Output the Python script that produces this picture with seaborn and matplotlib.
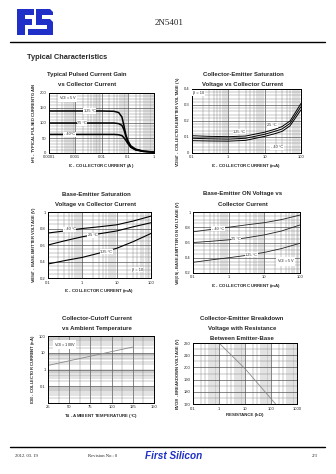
import matplotlib
matplotlib.use("Agg")
import matplotlib.pyplot as plt
import matplotlib.ticker as mt
from matplotlib.patches import Polygon
import seaborn as sns

sns.set_style("white")
plt.rcParams['font.family'] = ['Liberation Sans', 'DejaVu Sans']
plt.rcParams['mathtext.default'] = 'regular'

W, H, DPI = 336, 474, 100

# ---- Typical pulsed current gain vs collector current (A)
gain_ic = [0.0001, 0.001, 0.01, 0.03, 0.045, 0.06, 0.07, 0.085, 0.1, 0.13, 0.2, 0.4, 1.0]
gain_125 = [140, 140, 140, 139, 135, 120, 95, 60, 42, 24, 13, 6, 3]
gain_25 = [100, 100, 100, 100, 98, 92, 80, 56, 38, 21, 11, 6, 3]
gain_m40 = [62, 62, 62, 62, 61, 58, 52, 42, 32, 19, 10, 5, 3]

# ---- Collector-emitter saturation voltage vs collector current (mA)
vce_ic = [0.1, 0.3, 1, 3, 10, 20, 30, 50, 100]
vce_125 = [0.108, 0.104, 0.102, 0.106, 0.13, 0.15, 0.165, 0.2, 0.31]
vce_25 = [0.092, 0.089, 0.087, 0.092, 0.117, 0.137, 0.15, 0.185, 0.29]
vce_m40 = [0.077, 0.075, 0.074, 0.079, 0.104, 0.122, 0.135, 0.17, 0.27]

# ---- Base-emitter saturation voltage vs collector current (mA)
vbes_ic = [0.1, 0.3, 1, 3, 10, 30, 100]
vbes_m40 = [0.745, 0.77, 0.8, 0.82, 0.845, 0.89, 0.95]
vbes_25 = [0.6, 0.65, 0.7, 0.735, 0.77, 0.82, 0.87]
vbes_125 = [0.37, 0.41, 0.45, 0.5, 0.56, 0.64, 0.74]

# ---- Base-emitter ON voltage vs collector current (mA)
vbeon_ic = [0.1, 0.3, 1, 3, 10, 30, 100]
vbeon_m40 = [0.74, 0.77, 0.8, 0.83, 0.86, 0.9, 0.96]
vbeon_25 = [0.6, 0.615, 0.635, 0.66, 0.7, 0.75, 0.83]
vbeon_125 = [0.34, 0.37, 0.4, 0.43, 0.47, 0.52, 0.59]

# ---- Collector-cutoff current vs ambient temperature
icbo_temp = [25, 75, 125]
icbo_na = [1.75, 6.2, 22]

# ---- Collector-emitter breakdown voltage vs emitter-base resistance (kOhm)
bv_res = [1, 10, 150]
bv_volt = [220, 199, 170]

BLUE = "#1f2fc8"
HEAD_SIZE = 4.3

fig = plt.figure(figsize=(W / DPI, H / DPI), dpi=DPI)

# page overlay in pixel units
page = fig.add_axes([0, 0, 1, 1])
page.set_xlim(0, W)
page.set_ylim(H, 0)
page.axis('off')

# company logo: blocky "F" and "S"
page.add_patch(Polygon([(17, 9), (34, 9), (34, 15), (25, 15), (25, 19), (32, 19),
                        (32, 25), (25, 25), (25, 35), (17, 35)], closed=True, fc=BLUE, ec='none'))
page.add_patch(Polygon([(36, 9), (50, 9), (53, 12), (53, 15), (42, 15), (42, 19),
                        (50, 19), (53, 22), (53, 35), (28, 35), (28, 29), (47, 29),
                        (47, 25), (36, 25)], closed=True, fc=BLUE, ec='none'))
page.text(169, 23, "2N5401", fontsize=6.5, family=['Liberation Serif', 'DejaVu Serif'],
          ha='center', va='center')
page.plot([10, 325], [42, 42], color='black', lw=1.0)
page.text(27, 57, "Typical Characteristics", fontsize=5.3, fontweight='bold',
          ha='left', va='center')

# footer
page.plot([10, 325], [447, 447], color='black', lw=1.0)
serif = ['Liberation Serif', 'DejaVu Serif']
page.text(15, 456, "2012. 03. 19", fontsize=3.3, family=serif, ha='left', va='center')
page.text(88, 456, "Revision No.: 0", fontsize=3.3, family=serif, ha='left', va='center')
page.text(145, 456, "First Silicon", fontsize=7.2, fontweight='bold', style='italic',
          color=BLUE, ha='left', va='center')
page.text(318, 456, "2/3", fontsize=3.3, family=serif, ha='right', va='center')


def box(x0, y0, x1, y1):
    return [x0 / W, 1 - y1 / H, (x1 - x0) / W, (y1 - y0) / H]


def title(lines, cx, y0, step=10.5):
    for i, t in enumerate(lines):
        page.text(cx, y0 + i * step, t, fontsize=HEAD_SIZE, fontweight='bold',
                  ha='center', va='center')


def style(ax, xlabel, ylabel):
    ax.grid(which='major', color='#444444', lw=0.45)
    ax.grid(which='minor', color='#7a7a7a', lw=0.3)
    for s in ax.spines.values():
        s.set_color('black')
        s.set_linewidth(0.7)
    ax.tick_params(which='both', labelsize=3, length=0, pad=1.8)
    ax.set_xlabel(xlabel, fontsize=3.2, fontweight='bold', labelpad=1.5)
    ax.set_ylabel(ylabel, fontsize=3.0, fontweight='bold', labelpad=1.5)


def tag(ax, x, y, s, **kw):
    ax.text(x, y, s, fontsize=2.8, ha='center', va='center', zorder=5,
            bbox=dict(fc='white', ec='none', pad=0.4), **kw)


def plain(v, pos):
    return f"{v:g}"


def logx(ax, lo, hi):
    ax.set_xscale('log')
    ax.set_xlim(lo, hi)
    ax.xaxis.set_major_locator(mt.LogLocator(base=10))
    ax.xaxis.set_minor_locator(mt.LogLocator(base=10, subs=range(2, 10)))
    ax.xaxis.set_major_formatter(mt.FuncFormatter(plain))
    ax.xaxis.set_minor_formatter(mt.NullFormatter())


# 1) current gain
ax1 = fig.add_axes(box(49, 93, 154, 153))
for y in (gain_125, gain_25, gain_m40):
    sns.lineplot(x=gain_ic, y=y, ax=ax1, color='black', lw=1.1)
logx(ax1, 0.0001, 1)
ax1.set_ylim(0, 200)
ax1.yaxis.set_major_locator(mt.MultipleLocator(50))
ax1.yaxis.set_minor_locator(mt.MultipleLocator(10))
style(ax1, r"$I_C$ - COLLECTOR CURRENT (A)", r"$h_{FE}$ - TYPICAL PULSED CURRENT GAIN")
tag(ax1, 0.0035, 140, "125 °C")
tag(ax1, 0.0018, 100, "25 °C")
tag(ax1, 0.0006, 62, "- 40°C")
tag(ax1, 0.0005, 183, r"$V_{CE}$ = 5V")
title(["Typical Pulsed Current Gain", "vs Collector Current"], 87, 74)

# 2) saturation voltage
ax2 = fig.add_axes(box(192, 89, 301, 153))
for y in (vce_125, vce_25, vce_m40):
    sns.lineplot(x=vce_ic, y=y, ax=ax2, color='black', lw=0.7)
logx(ax2, 0.1, 100)
ax2.set_ylim(0, 0.4)
ax2.yaxis.set_major_locator(mt.MultipleLocator(0.1))
ax2.yaxis.set_minor_locator(mt.MultipleLocator(0.02))
ax2.yaxis.set_major_formatter(mt.FuncFormatter(plain))
style(ax2, r"$I_C$ - COLLECTOR CURRENT (mA)", r"$V_{CESAT}$ - COLLECTOR-EMITTER VOLTAGE (V)")
tag(ax2, 0.15, 0.375, "β = 10")
tag(ax2, 2.0, 0.133, "125 °C")
tag(ax2, 16, 0.175, "25 °C")
tag(ax2, 22, 0.035, "- 40 °C")
title(["Collector-Emitter Saturation", "Voltage vs Collector Current"], 243, 74)

# 3) base-emitter saturation voltage
ax3 = fig.add_axes(box(48, 212, 151, 278))
for y in (vbes_m40, vbes_25, vbes_125):
    sns.lineplot(x=vbes_ic, y=y, ax=ax3, color='black', lw=0.8)
logx(ax3, 0.1, 100)
ax3.set_ylim(0.2, 1.0)
ax3.yaxis.set_major_locator(mt.MultipleLocator(0.2))
ax3.yaxis.set_minor_locator(mt.MultipleLocator(0.05))
ax3.yaxis.set_major_formatter(mt.FuncFormatter(plain))
style(ax3, r"$I_C$ - COLLECTOR CURRENT (mA)", r"$V_{BESAT}$ - BASE-EMITTER VOLTAGE (V)")
tag(ax3, 0.43, 0.79, "- 40 °C")
tag(ax3, 2.0, 0.72, "25 °C")
tag(ax3, 5.0, 0.52, "125 °C")
tag(ax3, 40, 0.3, "β = 10")
title(["Base-Emitter Saturation", "Voltage vs Collector Current"], 96, 194)

# 4) base-emitter ON voltage
ax4 = fig.add_axes(box(193, 212, 300, 273))
for y in (vbeon_m40, vbeon_25, vbeon_125):
    sns.lineplot(x=vbeon_ic, y=y, ax=ax4, color='#222222', lw=0.6)
logx(ax4, 0.1, 100)
ax4.set_ylim(0.2, 1.0)
ax4.yaxis.set_major_locator(mt.MultipleLocator(0.2))
ax4.yaxis.set_minor_locator(mt.MultipleLocator(0.05))
ax4.yaxis.set_major_formatter(mt.FuncFormatter(plain))
style(ax4, r"$I_C$ - COLLECTOR CURRENT (mA)", r"$V_{BE(ON)}$ - BASE-EMITTER ON VOLTAGE (V)")
tag(ax4, 0.5, 0.78, "- 40 °C")
tag(ax4, 1.6, 0.65, "25 °C")
tag(ax4, 4.3, 0.44, "125 °C")
tag(ax4, 40, 0.35, r"$V_{CE}$ = 5V")
title(["Base-Emitter ON Voltage vs", "Collector Current"], 243, 194)

# 5) collector-cutoff current
ax5 = fig.add_axes(box(48, 336, 154, 403))
sns.lineplot(x=icbo_temp, y=icbo_na, ax=ax5, color='#8a8a8a', lw=0.6)
ax5.set_yscale('log')
ax5.set_ylim(0.01, 100)
ax5.set_xlim(25, 150)
ax5.xaxis.set_major_locator(mt.MultipleLocator(25))
ax5.xaxis.set_minor_locator(mt.MultipleLocator(12.5))
ax5.yaxis.set_major_locator(mt.FixedLocator([0.1, 1, 10, 100]))
ax5.yaxis.set_minor_locator(mt.LogLocator(base=10, subs=range(2, 10)))
ax5.yaxis.set_major_formatter(mt.FuncFormatter(plain))
ax5.yaxis.set_minor_formatter(mt.NullFormatter())
style(ax5, r"$T_A$ - AMBIENT TEMPERATURE (°C)", r"$I_{CBO}$ - COLLECTOR CURRENT (nA)")
tag(ax5, 45, 30, r"$V_{CB}$ = 100V")
title(["Collector-Cutoff Current", "vs Ambient Temperature"], 97, 319, step=9.5)

# 6) breakdown voltage vs resistance
ax6 = fig.add_axes(box(193, 343, 297, 404))
sns.lineplot(x=bv_res, y=bv_volt, ax=ax6, color='#8a8a8a', lw=0.6)
logx(ax6, 0.1, 1000)
ax6.set_ylim(170, 220)
ax6.yaxis.set_major_locator(mt.MultipleLocator(10))
ax6.yaxis.set_minor_locator(mt.MultipleLocator(5))
style(ax6, "RESISTANCE (kΩ)", r"$BV_{CER}$ - BREAKDOWN VOLTAGE (V)")
title(["Collector-Emitter Breakdown", "Voltage with Resistance", "Between Emitter-Base"],
      242, 319, step=9.5)

fig.savefig("out.png", dpi=DPI)
